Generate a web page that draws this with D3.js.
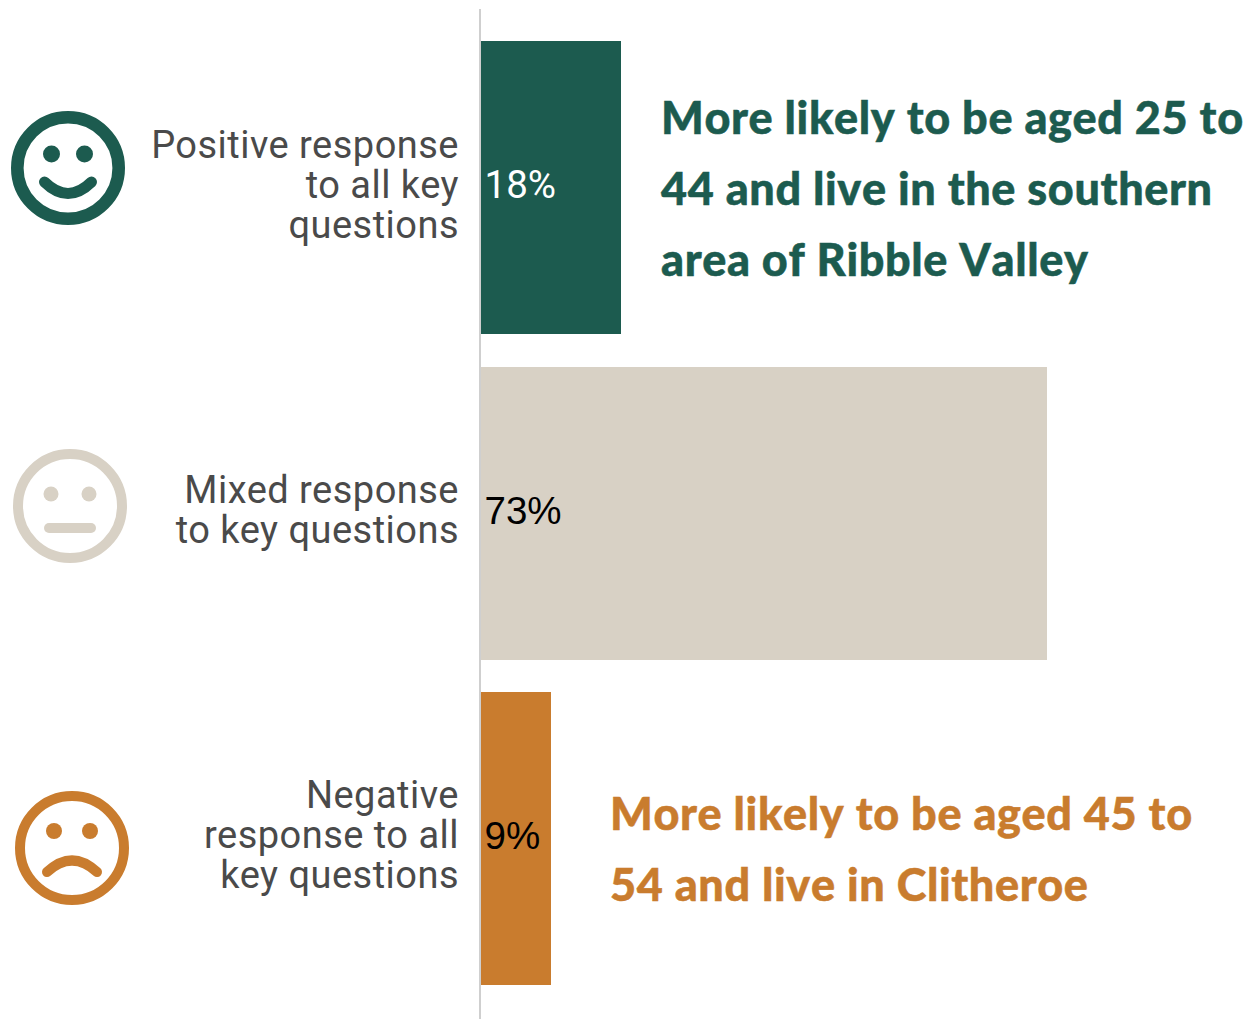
<!DOCTYPE html>
<html><head><meta charset="utf-8">
<script src="https://cdn.jsdelivr.net/npm/d3@7"></script>
<style>html,body{margin:0;padding:0;background:#fff}svg{display:block}</style>
</head><body><script>
const categories = ["Positive","Mixed","Negative"];
const values = [18,73,9];
const labelLines = [["Positive response","to all key","questions"],["Mixed response","to key questions"],["Negative","response to all","key questions"]];
const colors = ["#1c5b4f","#d8d1c5","#c97c2e"];
const valueColors = ["#ffffff","#000000","#000000"];
const moods = ["happy","neutral","sad"];
const notes = [["More likely to be aged 25 to","44 and live in the southern","area of Ribble Valley"],[],["More likely to be aged 45 to","54 and live in Clitheroe"]];

const W=1247,H=1019;
const svg=d3.select("body").append("svg").attr("width",W).attr("height",H);
const x=d3.scaleLinear().domain([0,100]).range([481,1257]);
const y=d3.scaleBand().domain(categories).range([41,985]).paddingInner(0.1).paddingOuter(0);
const rows=categories.map((c,i)=>({c,i,v:values[i]}));
const top_=d=>Math.round(y(d.c)+0.01);

svg.selectAll("rect.bar").data(rows).join("rect").attr("class","bar")
  .attr("x",x(0)).attr("y",top_).attr("width",d=>Math.round(x(d.v)-x(0))).attr("height",Math.round(y.bandwidth()))
  .attr("fill",d=>colors[d.i]);
svg.append("line").attr("x1",480).attr("x2",480).attr("y1",9).attr("y2",1019).attr("stroke","#cfcfcf").attr("stroke-width",2);

svg.selectAll("text.val").data(rows).join("text").attr("class","val")
  .attr("x",x(0)+3.5).attr("y",d=>top_(d)+157)
  .attr("font-family",d=>d.i===0?"Roboto,sans-serif":"'Liberation Sans',Arial,sans-serif")
  .attr("font-weight",400)
  .attr("font-size",38.5)
  .attr("fill",d=>valueColors[d.i]).text(d=>d.v+"%");

const labelTop=[158,503,808];
rows.forEach(d=>{
  labelLines[d.i].forEach((t,j)=>svg.append("text").attr("x",459).attr("y",labelTop[d.i]+j*40)
    .attr("text-anchor","end").attr("font-family","Roboto,sans-serif").attr("font-weight",400).attr("font-size",38).attr("letter-spacing",0.48)
    .attr("fill","#4a4a4a").text(t));
});

const noteX=[661,0,610],noteY=[133.5,0,829.5];
rows.forEach(d=>{
  notes[d.i].forEach((t,j)=>svg.append("text").attr("x",noteX[d.i]).attr("y",noteY[d.i]+j*71.3)
    .attr("font-family","Lato,sans-serif").attr("font-weight",900).attr("font-size",45).attr("letter-spacing",0.6)
    .style("font-kerning","none").attr("stroke",colors[d.i]).attr("stroke-width",0.5)
    .attr("fill",colors[d.i]).text(t));
});

const faceCfg=[{cx:68,cy:168,r:50.7,sw:12.6,ex:16.5,ey:-14,er:8.5},{cx:70,cy:506,r:52,sw:10,ex:19,ey:-12,er:7.5},{cx:72,cy:848,r:52,sw:10,ex:18,ey:-17,er:8}];
moods.forEach((m,i)=>{
  const f=faceCfg[i],g=svg.append("g").attr("transform",`translate(${f.cx},${f.cy})`);
  g.append("circle").attr("r",f.r).attr("fill","none").attr("stroke",colors[i]).attr("stroke-width",f.sw);
  [-1,1].forEach(s=>g.append("circle").attr("cx",s*f.ex).attr("cy",f.ey).attr("r",f.er).attr("fill",colors[i]));
  const mouth=g.append("path").attr("fill","none").attr("stroke",colors[i]).attr("stroke-linecap","round");
  if(m==="happy") mouth.attr("stroke-width",11).attr("d","M-23.5,14Q0,37 23.5,14");
  if(m==="neutral") mouth.attr("stroke-width",10).attr("d","M-21,22L21,22");
  if(m==="sad") mouth.attr("stroke-width",10).attr("d","M-25,24Q0,1 25,24");
});
</script></body></html>
